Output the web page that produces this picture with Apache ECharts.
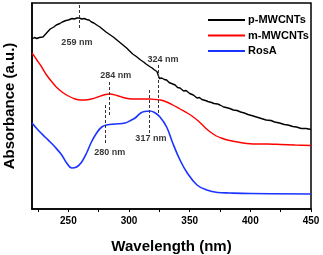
<!DOCTYPE html>
<html>
<head>
<meta charset="utf-8">
<script src="https://cdn.jsdelivr.net/npm/echarts@6/dist/echarts.min.js"></script>
<style>html,body{margin:0;padding:0;background:#fff}#c{width:323px;height:255px}</style>
</head>
<body>
<div id="c"></div>
<script>
var seriesNames = ['p-MWCNTs', 'm-MWCNTs', 'RosA'];
var pMWCNTs = [[220,170],[222,171.5],[224,170.5],[226,171.5],[229,172],[232,176],[235,180],[238,182],[240,184],[243,185.5],[245,187],[248,188.5],[250,189],[253,190.5],[255,190],[257,191],[259,191],[261,190],[263,190.5],[265,189.5],[267,189],[269,187],[271,186],[274,183.5],[276,182],[279,179],[281,177],[284,174.5],[287,172],[290,169],[292,167],[295,164],[298,161],[300,158.5],[303,155],[306,152.5],[309,149.5],[312,147],[314,145],[317,142.5],[319,141],[321,139],[323,137.5],[324,136],[325,130.5],[326,132],[327,131],[329,129.5],[330,128],[331,129],[333,126.5],[335,125.5],[336,123.5],[338,124],[340,121.5],[342,121],[345,118],[347,118.5],[350,115.5],[353,114],[356,111],[358,111.5],[360,109.5],[363,108.5],[365,107.5],[368,106.5],[370,105.5],[373,105],[375,104],[378,102],[380,101.5],[383,100.5],[386,99],[389,98.5],[392,97],[395,96],[398,94.5],[401,93.5],[405,92],[409,90.5],[413,89],[417,88.5],[420,87],[424,86],[428,84.5],[431,84],[435,82.5],[438,82],[442,80.5],[446,80.5],[450,79.5]];
var mMWCNTs = [[220,156],[224,149],[228,142],[232,134],[236.5,127],[240,122],[244.7,117],[250,113],[255.5,110],[260,109],[264,109],[269,110],[274.4,112],[279,114],[284,115],[290,113.5],[296.7,111],[303,110],[310,110],[317,110],[322,109.5],[326,109],[331,107],[336,104],[342,100],[348,96],[353,92],[358,87],[363,81],[367,77],[372,73],[376,71],[381,69],[387,67.5],[394,66],[404,65],[414,65],[425,64.5],[437,64],[450,63.5]];
var rosA = [[220,86],[225,79],[230.7,72],[235,67],[239,62],[244.5,54],[248.6,46],[252.7,41],[256.8,42],[261,47],[265,56],[269,67],[273.3,76],[277.5,82],[281.6,84],[288.5,85],[296.7,86],[302,89],[305,91],[309.6,96],[313,97.5],[317,98],[321,96.5],[325.5,92],[331,82],[336,66],[342,49],[348,36],[356,24],[364,19],[373,16.5],[383,16],[400,15.5],[450,15]];
var peakNm = [259, 284, 280, 317, 324];
var peakFrom = [204, 127, 104, 119, 144];
var peakTo = [181, 92, 64, 76, 96];
var peakLabels = ['259 nm', '284 nm', '280 nm', '317 nm', '324 nm'];
var labelX = [257, 289, 284, 318, 328];
var labelY = [166, 133, 56, 70, 149];
var xTicks = [225,250,275,300,325,350,375,400,425,450];
var xTickLabels = [250,300,350,400,450];

var font = 'Arial, "Liberation Sans", sans-serif';
var chart = echarts.init(document.getElementById('c'));
var markData = peakNm.map(function(x, i){ return [{coord:[x, peakFrom[i]]},{coord:[x, peakTo[i]]}]; });
var labelData = peakLabels.map(function(t, i){ return {name: t, value: [labelX[i], labelY[i]]}; });
chart.setOption({
  animation: false,
  grid: {left: 32, right: 12, top: 3, bottom: 46, containLabel: false, outerBoundsMode: 'none', show: true, borderColor: '#000', borderWidth: 1.5, backgroundColor: 'transparent'},
  legend: {
    data: seriesNames, orient: 'vertical', left: 203, top: 9, icon: 'rect', itemWidth: 37, itemHeight: 2, itemGap: 3.5,
    textStyle: {fontFamily: font, fontWeight: 'bold', fontSize: 11, color: '#000', lineHeight: 12, padding: [0,0,0,-2]}
  },
  xAxis: {
    type: 'value', min: 220, max: 450,
    name: 'Wavelength (nm)', nameLocation: 'middle', nameGap: 30,
    nameTextStyle: {fontFamily: font, fontWeight: 'bold', fontSize: 15, color: '#000'},
    axisLine: {show: true, lineStyle: {color: '#000', width: 1.5}},
    axisTick: {show: true, customValues: xTicks, length: 3, lineStyle: {color: '#000', width: 1}},
    axisLabel: {customValues: xTickLabels, fontFamily: font, fontWeight: 'bold', fontSize: 10, color: '#000', margin: 7},
    splitLine: {show: false}
  },
  yAxis: {
    type: 'value', min: 0, max: 206,
    name: 'Absorbance (a.u.)', nameLocation: 'middle', nameGap: 15,
    nameTextStyle: {fontFamily: font, fontWeight: 'bold', fontSize: 15, color: '#000'},
    axisLine: {show: true, lineStyle: {color: '#000', width: 1.5}},
    axisTick: {show: false}, axisLabel: {show: false}, splitLine: {show: false}
  },
  series: [
    {name: seriesNames[0], type: 'line', data: pMWCNTs, showSymbol: false, lineStyle: {color: '#000', width: 1.4}, itemStyle: {color: '#000'}},
    {name: seriesNames[1], type: 'line', data: mMWCNTs, showSymbol: false, smooth: 0.3, lineStyle: {color: '#ff0000', width: 1.4}, itemStyle: {color: '#ff0000'}},
    {name: seriesNames[2], type: 'line', data: rosA, showSymbol: false, smooth: 0.4, lineStyle: {color: '#1a33ff', width: 1.6}, itemStyle: {color: '#1a33ff'},
      markLine: {silent: true, symbol: 'none', label: {show: false}, lineStyle: {color: '#333', width: 1, type: [3,2]}, data: markData}},
    {type: 'scatter', data: labelData, symbolSize: 1, itemStyle: {color: 'transparent'}, silent: true,
      label: {show: true, position: 'inside', formatter: '{b}', fontFamily: font, fontWeight: 'bold', fontSize: 9, color: '#000'}}
  ]
});
</script>
</body>
</html>
